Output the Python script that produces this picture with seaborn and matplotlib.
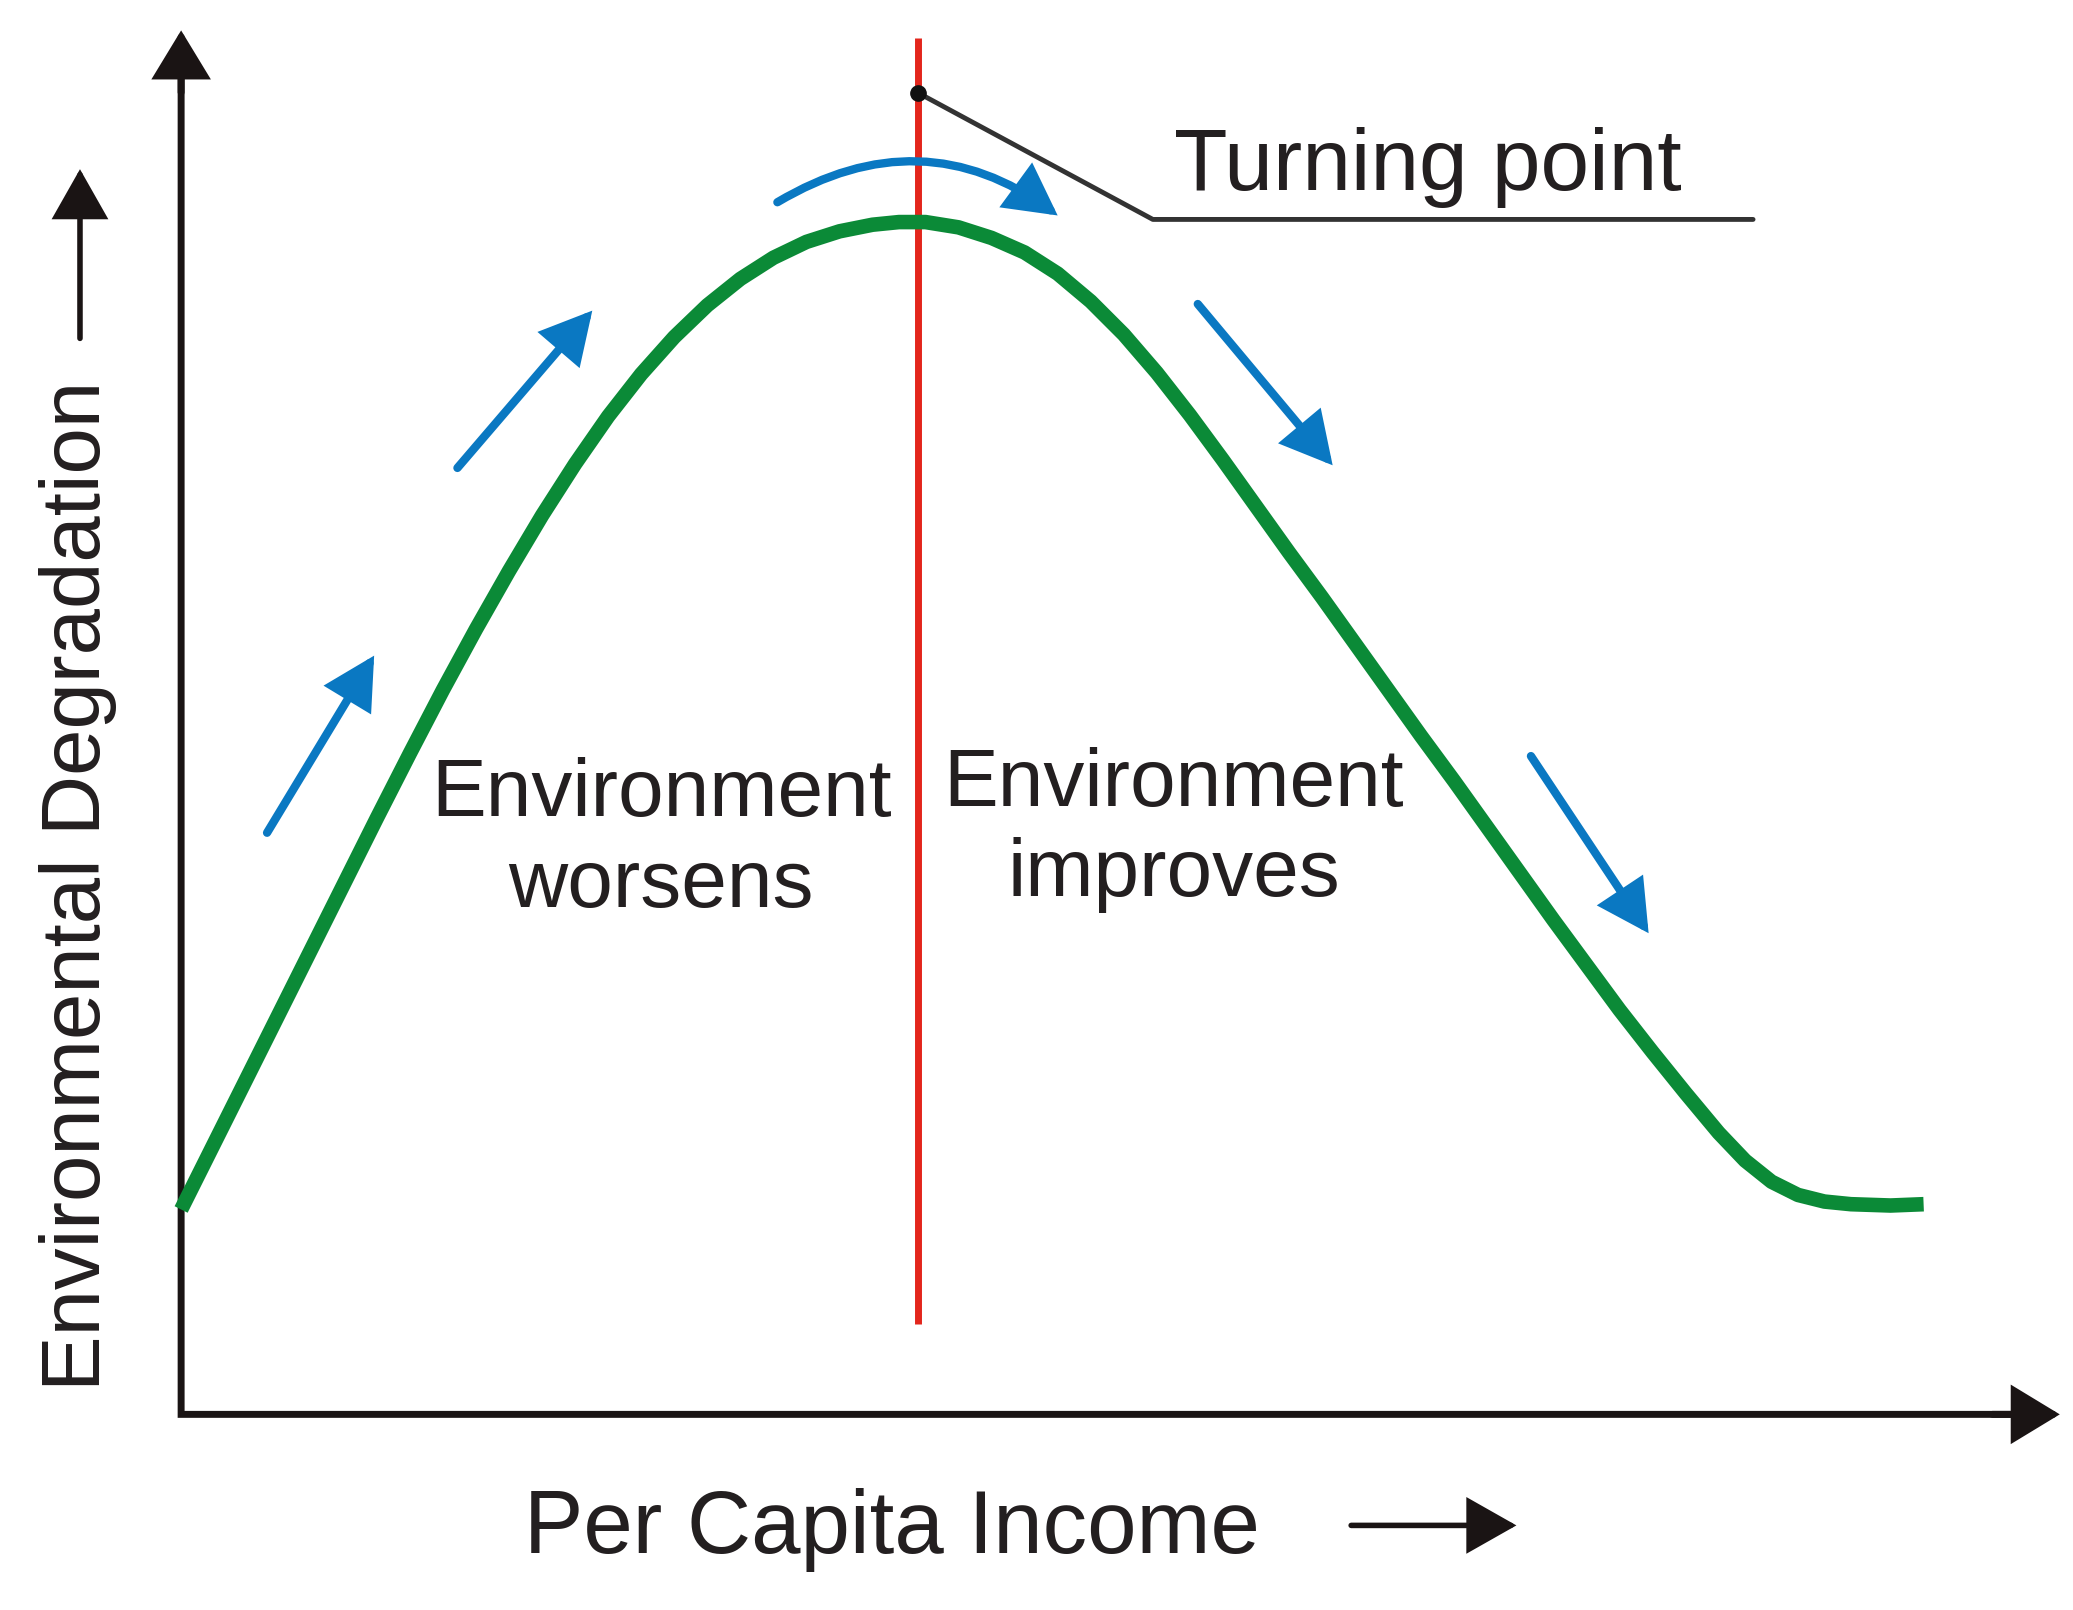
"""
Environmental Kuznets curve: per capita income vs environmental degradation.
"""

import matplotlib
matplotlib.use("Agg")
import matplotlib.pyplot as plt
import seaborn as sns
import pandas as pd

# Curve (income, degradation), arbitrary units
income = [0.00, 0.23, 0.48, 0.73, 0.98, 1.23, 1.48, 1.73, 1.98, 2.23,
          2.48, 2.73, 2.98, 3.23, 3.48, 3.73, 3.98, 4.23, 4.48, 4.73,
          4.98, 5.23, 5.43, 5.63, 5.88, 6.13, 6.38, 6.63, 6.88, 7.13,
          7.38, 7.63, 7.88, 8.13, 8.38, 8.63, 8.88, 9.13, 9.38, 9.63,
          9.88, 10.13, 10.38, 10.63, 10.88, 11.13, 11.38, 11.63, 11.83, 12.03,
          12.23, 12.43, 12.63, 12.93, 13.18]
degradation = [1.55, 2.01, 2.51, 3.01, 3.51, 4.01, 4.51, 5.00, 5.48, 5.94,
               6.38, 6.80, 7.19, 7.55, 7.87, 8.15, 8.39, 8.59, 8.75, 8.87,
               8.95, 9.00, 9.02, 9.02, 8.98, 8.90, 8.79, 8.63, 8.42, 8.17,
               7.88, 7.56, 7.22, 6.87, 6.52, 6.18, 5.83, 5.48, 5.13, 4.79,
               4.44, 4.09, 3.74, 3.40, 3.06, 2.74, 2.43, 2.13, 1.92, 1.76,
               1.66, 1.61, 1.59, 1.58, 1.59]

turning_point_income = 5.57
x_label = "Per Capita Income"
y_label = "Environmental Degradation"
left_label = ["Environment", "worsens"]
right_label = ["Environment", "improves"]
turning_label = "Turning point"

GREEN = "#0b8a37"
BLUE = "#0a78c2"
RED = "#e3261c"
TEXT = "#231f20"
BLACK = "#1a1414"


def arrow(ax, start, end, color, lw, hl, hw, scale=10, rad=0.0):
    ax.annotate(
        "", xy=end, xytext=start,
        arrowprops=dict(
            arrowstyle=f"-|>,head_length={hl},head_width={hw}",
            mutation_scale=scale, lw=lw, color=color,
            shrinkA=0, shrinkB=0,
            connectionstyle=f"arc3,rad={rad}",
            joinstyle="miter",
        ),
    )


def main():
    sns.set_theme(style="white")
    plt.rcParams["font.family"] = ["Liberation Sans", "DejaVu Sans"]

    df = pd.DataFrame({"income": income, "degradation": degradation})

    fig = plt.figure(figsize=(20.73, 16.10), dpi=100)
    ax = fig.add_axes([0, 0, 1, 1])
    ax.set_xlim(-1.37, 14.31)
    ax.set_ylim(-1.48, 10.70)
    ax.axis("off")

    # axes: one L-shaped line plus arrow heads at the ends
    ax.plot([0, 0, 13.9], [10.2, 0, 0], color=BLACK, lw=5, snap=False,
            solid_joinstyle="miter", solid_capstyle="butt")
    arrow(ax, (0, 10.0), (0, 10.47), BLACK, 5.0, 2.8, 1.7)
    arrow(ax, (13.7, 0), (14.21, 0), BLACK, 5.0, 2.8, 1.7)

    # turning point line
    ax.plot([turning_point_income, turning_point_income], [0.68, 10.41],
            color=RED, lw=5, solid_capstyle="butt")

    # the curve
    sns.lineplot(data=df, x="income", y="degradation", ax=ax, sort=False,
                 color=GREEN, linewidth=10.5, solid_capstyle="butt",
                 solid_joinstyle="round")

    # turning point leader
    ax.plot([turning_point_income, 7.35, 11.89], [10.00, 9.04, 9.04],
            color="#333333", lw=3.5)
    ax.plot([turning_point_income], [10.00], "o", color="#111111",
            markersize=11)
    ax.text(9.43, 9.26, turning_label, ha="center", va="baseline",
            fontsize=63, color=TEXT)

    # blue direction arrows
    arrow(ax, (0.65, 4.40), (1.46, 5.74), BLUE, 6, 2.8, 1.5)
    arrow(ax, (2.09, 7.16), (3.11, 8.35), BLUE, 6, 2.8, 1.5)
    arrow(ax, (4.51, 9.17), (6.63, 9.07), BLUE, 6, 2.8, 1.5, rad=-0.33)
    arrow(ax, (7.69, 8.40), (8.71, 7.18), BLUE, 6, 2.8, 1.5)
    arrow(ax, (10.21, 4.98), (11.10, 3.64), BLUE, 6, 2.8, 1.5)

    # region labels
    ax.text(3.63, 4.53, left_label[0], ha="center", va="baseline",
            fontsize=59, color=TEXT)
    ax.text(3.63, 3.84, left_label[1], ha="center", va="baseline",
            fontsize=59, color=TEXT)
    ax.text(7.51, 4.60, right_label[0], ha="center", va="baseline",
            fontsize=59, color=TEXT)
    ax.text(7.51, 3.92, right_label[1], ha="center", va="baseline",
            fontsize=59, color=TEXT)

    # axis titles
    ax.text(5.38, -1.05, x_label, ha="center", va="baseline",
            fontsize=64, color=TEXT)
    arrow(ax, (8.85, -0.84), (10.10, -0.84), BLACK, 4, 3.0, 1.7)

    ax.text(-0.61, 4.00, y_label, ha="center", va="baseline", rotation=90,
            rotation_mode="anchor", fontsize=60, color=TEXT)
    arrow(ax, (-0.765, 8.14), (-0.765, 9.42), BLACK, 4, 3.0, 1.7)

    fig.savefig("out.png", dpi=100, facecolor="white")


if __name__ == "__main__":
    main()
